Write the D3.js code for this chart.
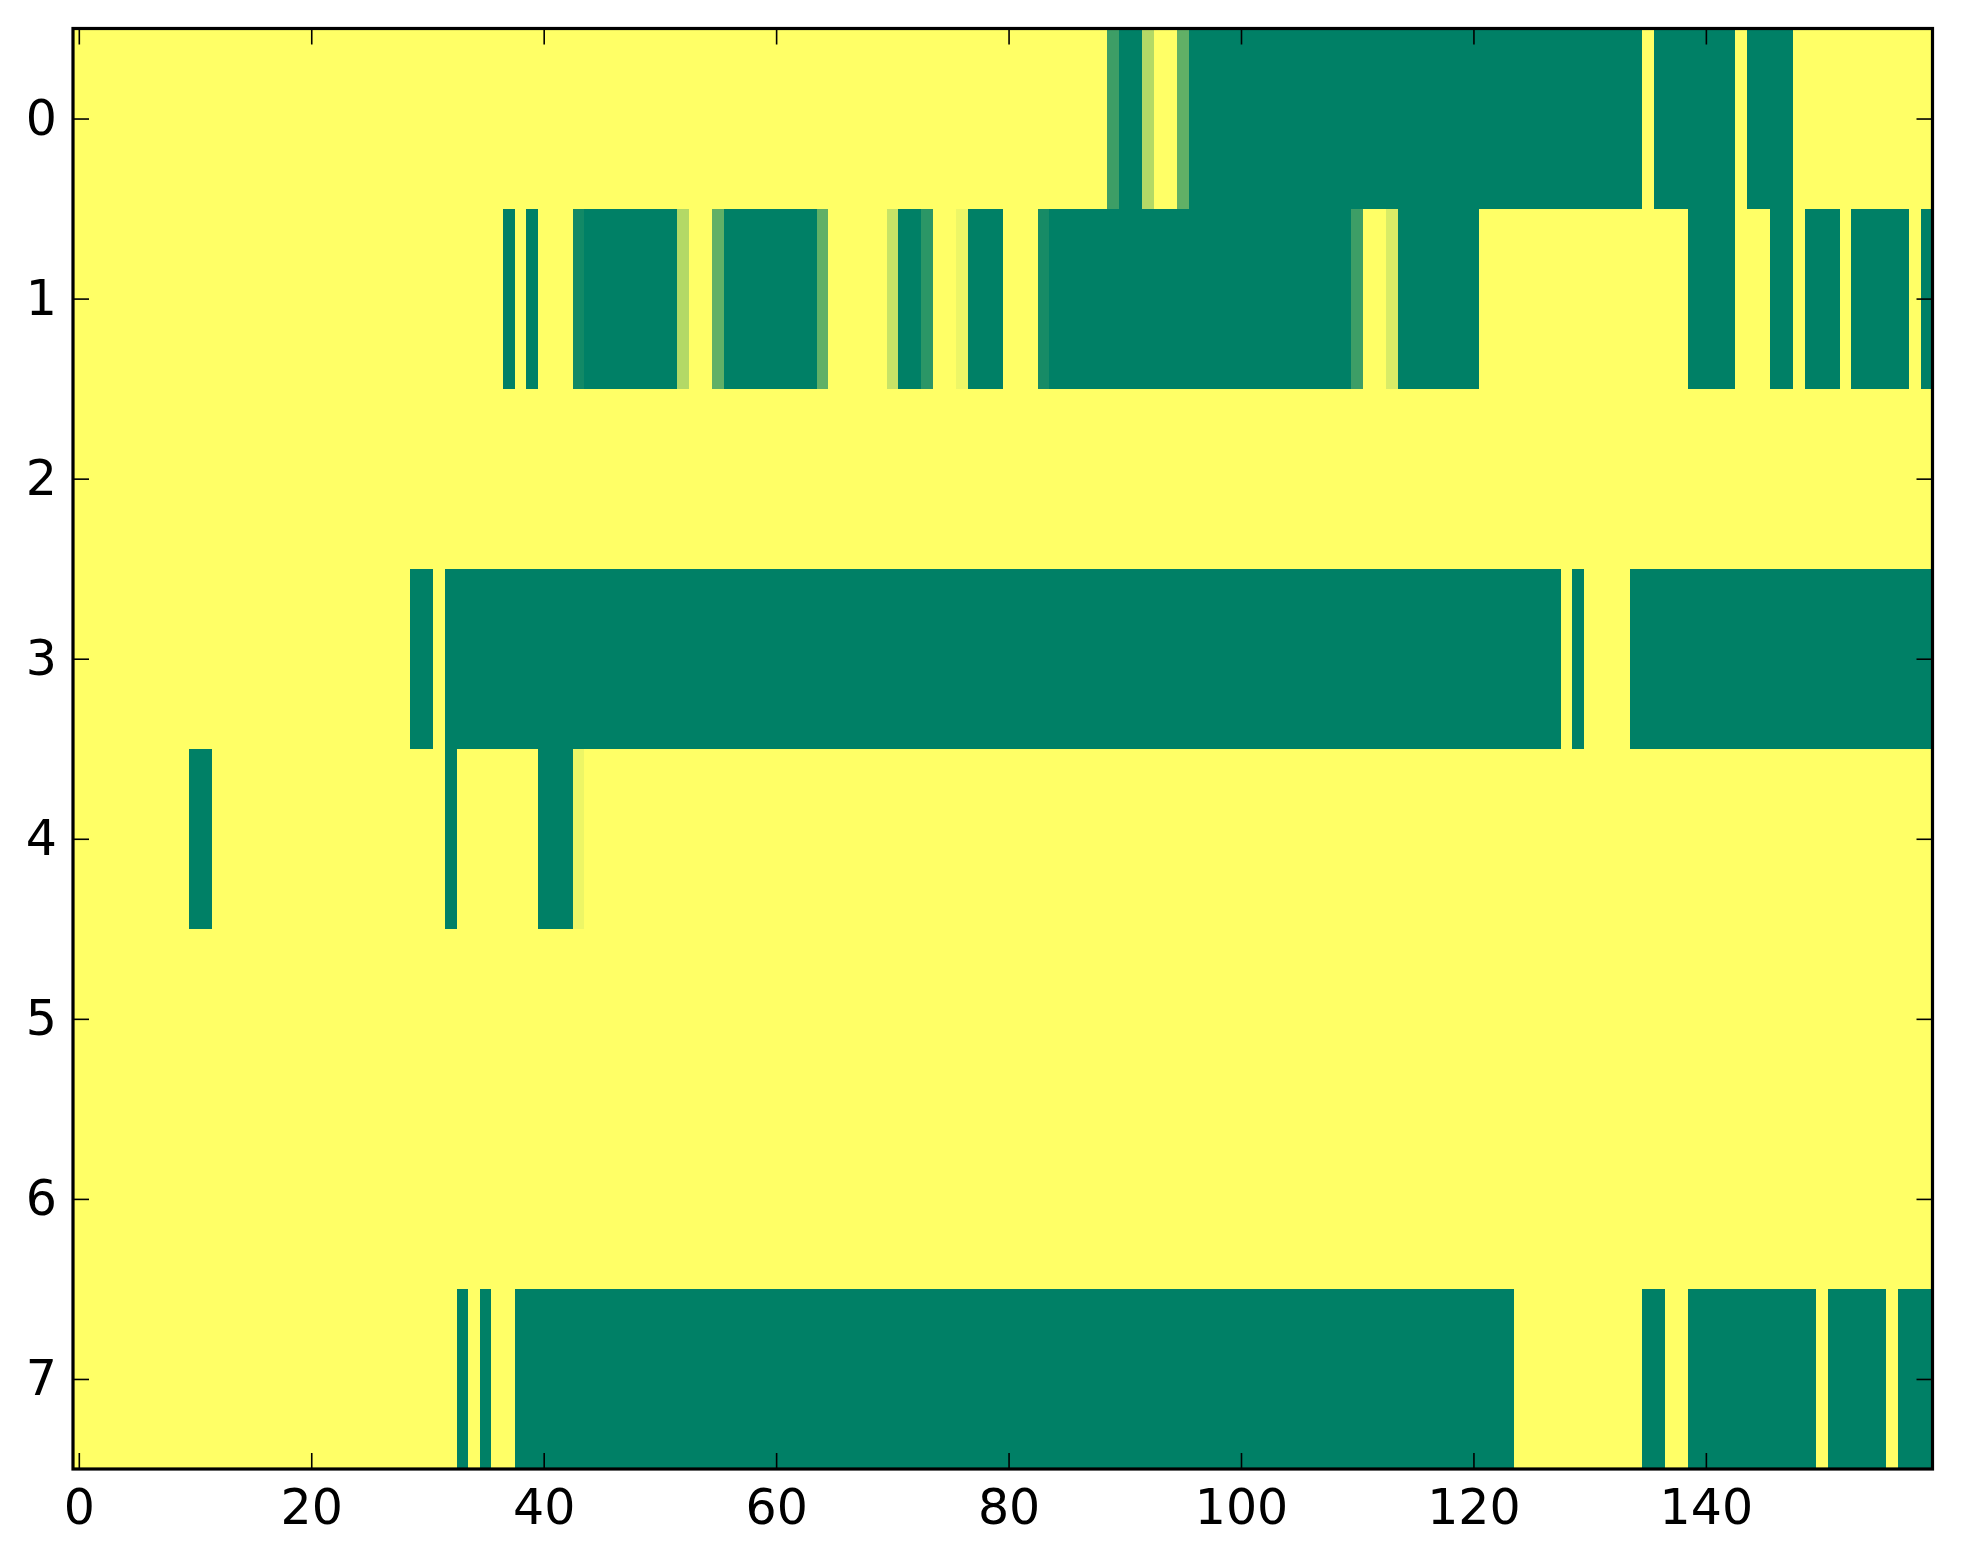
<!DOCTYPE html>
<html>
<head>
<meta charset="utf-8">
<script src="https://cdn.jsdelivr.net/npm/d3@7"></script>
<style>
  body { margin: 0; background: #fff; }
  text { font-family: "DejaVu Sans", sans-serif; }
</style>
</head>
<body>
<svg id="svg-heatmap"></svg>
<script>
// one array per image row, 160 columns each (0 = green, 1 = yellow)
const row0 = [
  1,1,1,1,1,1,1,1,1,1,1,1,1,1,1,1,1,1,1,1,
  1,1,1,1,1,1,1,1,1,1,1,1,1,1,1,1,1,1,1,1,
  1,1,1,1,1,1,1,1,1,1,1,1,1,1,1,1,1,1,1,1,
  1,1,1,1,1,1,1,1,1,1,1,1,1,1,1,1,1,1,1,1,
  1,1,1,1,1,1,1,1,1,.24,0,0,.7,1,1,.38,0,0,0,0,
  0,0,0,0,0,0,0,0,0,0,0,0,0,0,0,0,0,0,0,0,
  0,0,0,0,0,0,0,0,0,0,0,0,0,0,0,1,0,0,0,0,
  0,0,0,1,0,0,0,0,1,1,1,1,1,1,1,1,1,1,1,1
];
const row1 = [
  1,1,1,1,1,1,1,1,1,1,1,1,1,1,1,1,1,1,1,1,
  1,1,1,1,1,1,1,1,1,1,1,1,1,1,1,1,1,0,1,0,
  1,1,1,.07,0,0,0,0,0,0,0,0,.7,1,1,.38,0,0,0,0,
  0,0,0,0,.38,1,1,1,1,1,.78,0,0,.17,1,1,.93,0,0,0,
  1,1,1,.09,0,0,0,0,0,0,0,0,0,0,0,0,0,0,0,0,
  0,0,0,0,0,0,0,0,0,0,.24,1,1,.85,0,0,0,0,0,0,
  0,1,1,1,1,1,1,1,1,1,1,1,1,1,1,1,1,1,1,0,
  0,0,0,1,1,1,0,0,1,0,0,0,1,0,0,0,0,0,1,0
];
const row2 = [
  1,1,1,1,1,1,1,1,1,1,1,1,1,1,1,1,1,1,1,1,
  1,1,1,1,1,1,1,1,1,1,1,1,1,1,1,1,1,1,1,1,
  1,1,1,1,1,1,1,1,1,1,1,1,1,1,1,1,1,1,1,1,
  1,1,1,1,1,1,1,1,1,1,1,1,1,1,1,1,1,1,1,1,
  1,1,1,1,1,1,1,1,1,1,1,1,1,1,1,1,1,1,1,1,
  1,1,1,1,1,1,1,1,1,1,1,1,1,1,1,1,1,1,1,1,
  1,1,1,1,1,1,1,1,1,1,1,1,1,1,1,1,1,1,1,1,
  1,1,1,1,1,1,1,1,1,1,1,1,1,1,1,1,1,1,1,1
];
const row3 = [
  1,1,1,1,1,1,1,1,1,1,1,1,1,1,1,1,1,1,1,1,
  1,1,1,1,1,1,1,1,1,0,0,1,0,0,0,0,0,0,0,0,
  0,0,0,0,0,0,0,0,0,0,0,0,0,0,0,0,0,0,0,0,
  0,0,0,0,0,0,0,0,0,0,0,0,0,0,0,0,0,0,0,0,
  0,0,0,0,0,0,0,0,0,0,0,0,0,0,0,0,0,0,0,0,
  0,0,0,0,0,0,0,0,0,0,0,0,0,0,0,0,0,0,0,0,
  0,0,0,0,0,0,0,0,1,0,1,1,1,1,0,0,0,0,0,0,
  0,0,0,0,0,0,0,0,0,0,0,0,0,0,0,0,0,0,0,0
];
const row4 = [
  1,1,1,1,1,1,1,1,1,1,0,0,1,1,1,1,1,1,1,1,
  1,1,1,1,1,1,1,1,1,1,1,1,0,1,1,1,1,1,1,1,
  0,0,0,.93,1,1,1,1,1,1,1,1,1,1,1,1,1,1,1,1,
  1,1,1,1,1,1,1,1,1,1,1,1,1,1,1,1,1,1,1,1,
  1,1,1,1,1,1,1,1,1,1,1,1,1,1,1,1,1,1,1,1,
  1,1,1,1,1,1,1,1,1,1,1,1,1,1,1,1,1,1,1,1,
  1,1,1,1,1,1,1,1,1,1,1,1,1,1,1,1,1,1,1,1,
  1,1,1,1,1,1,1,1,1,1,1,1,1,1,1,1,1,1,1,1
];
const row5 = [
  1,1,1,1,1,1,1,1,1,1,1,1,1,1,1,1,1,1,1,1,
  1,1,1,1,1,1,1,1,1,1,1,1,1,1,1,1,1,1,1,1,
  1,1,1,1,1,1,1,1,1,1,1,1,1,1,1,1,1,1,1,1,
  1,1,1,1,1,1,1,1,1,1,1,1,1,1,1,1,1,1,1,1,
  1,1,1,1,1,1,1,1,1,1,1,1,1,1,1,1,1,1,1,1,
  1,1,1,1,1,1,1,1,1,1,1,1,1,1,1,1,1,1,1,1,
  1,1,1,1,1,1,1,1,1,1,1,1,1,1,1,1,1,1,1,1,
  1,1,1,1,1,1,1,1,1,1,1,1,1,1,1,1,1,1,1,1
];
const row6 = [
  1,1,1,1,1,1,1,1,1,1,1,1,1,1,1,1,1,1,1,1,
  1,1,1,1,1,1,1,1,1,1,1,1,1,1,1,1,1,1,1,1,
  1,1,1,1,1,1,1,1,1,1,1,1,1,1,1,1,1,1,1,1,
  1,1,1,1,1,1,1,1,1,1,1,1,1,1,1,1,1,1,1,1,
  1,1,1,1,1,1,1,1,1,1,1,1,1,1,1,1,1,1,1,1,
  1,1,1,1,1,1,1,1,1,1,1,1,1,1,1,1,1,1,1,1,
  1,1,1,1,1,1,1,1,1,1,1,1,1,1,1,1,1,1,1,1,
  1,1,1,1,1,1,1,1,1,1,1,1,1,1,1,1,1,1,1,1
];
const row7 = [
  1,1,1,1,1,1,1,1,1,1,1,1,1,1,1,1,1,1,1,1,
  1,1,1,1,1,1,1,1,1,1,1,1,1,0,1,0,1,1,0,0,
  0,0,0,0,0,0,0,0,0,0,0,0,0,0,0,0,0,0,0,0,
  0,0,0,0,0,0,0,0,0,0,0,0,0,0,0,0,0,0,0,0,
  0,0,0,0,0,0,0,0,0,0,0,0,0,0,0,0,0,0,0,0,
  0,0,0,0,0,0,0,0,0,0,0,0,0,0,0,0,0,0,0,0,
  0,0,0,0,1,1,1,1,1,1,1,1,1,1,1,0,0,1,1,0,
  0,0,0,0,0,0,0,0,0,0,1,0,0,0,0,0,1,0,0,0
];

const rows = [row0, row1, row2, row3, row4, row5, row6, row7];
const yTickValues = [0, 1, 2, 3, 4, 5, 6, 7];
const xTickValues = [0, 20, 40, 60, 80, 100, 120, 140];

drawHeatmap();

function drawHeatmap() {
    const width = 1963, height = 1564;
    const plot = { left: 73, right: 1932.5, top: 28.5, bottom: 1469 };
    const nCols = rows[0].length;

    const svg = d3.select('#svg-heatmap')
        .attr("width", width)
        .attr("height", height);

    // "summer" colormap: green -> yellow
    const color = d3.scaleLinear()
        .domain([0, 1])
        .range(["#008066", "#ffff66"]);

    const xBand = d3.scaleBand()
        .domain(d3.range(nCols))
        .range([plot.left, plot.right]);
    const yBand = d3.scaleBand()
        .domain(d3.range(rows.length))
        .range([plot.top, plot.bottom]);

    // linear scales for tick placement (pixel centres)
    const x = d3.scaleLinear().domain([-0.5, nCols - 0.5]).range([plot.left, plot.right]);
    const y = d3.scaleLinear().domain([-0.5, rows.length - 0.5]).range([plot.top, plot.bottom]);

    const cells = [];
    rows.forEach((r, ri) => r.forEach((v, ci) => cells.push({ row: ri, col: ci, v: v })));

    svg.append("g")
        .attr("shape-rendering", "crispEdges")
        .selectAll("rect")
        .data(cells)
        .enter().append("rect")
        .attr("x", d => xBand(d.col))
        .attr("y", d => yBand(d.row))
        .attr("width", xBand.bandwidth() + 0.6)
        .attr("height", yBand.bandwidth() + 0.6)
        .attr("fill", d => color(d.v));

    const tickLen = 16;

    const bottomAxis = svg.append("g")
        .attr("transform", `translate(0,${plot.bottom})`)
        .call(d3.axisBottom(x).tickValues(xTickValues).tickSize(-tickLen).tickPadding(20));
    const leftAxis = svg.append("g")
        .attr("transform", `translate(${plot.left},0)`)
        .call(d3.axisLeft(y).tickValues(yTickValues).tickSize(-tickLen).tickPadding(16));
    const topAxis = svg.append("g")
        .attr("transform", `translate(0,${plot.top})`)
        .call(d3.axisTop(x).tickValues(xTickValues).tickSize(-tickLen).tickFormat(""));
    const rightAxis = svg.append("g")
        .attr("transform", `translate(${plot.right},0)`)
        .call(d3.axisRight(y).tickValues(yTickValues).tickSize(-tickLen).tickFormat(""));

    [bottomAxis, leftAxis, topAxis, rightAxis].forEach(a => {
        a.select(".domain").remove();
        a.selectAll(".tick line").attr("stroke", "#000").attr("stroke-width", 1.6);
        a.selectAll("text")
            .attr("fill", "#000")
            .style("font-family", "'DejaVu Sans', sans-serif")
            .style("font-size", "49px");
    });

    // frame
    svg.append("rect")
        .attr("x", plot.left)
        .attr("y", plot.top)
        .attr("width", plot.right - plot.left)
        .attr("height", plot.bottom - plot.top)
        .attr("fill", "none")
        .attr("stroke", "#000")
        .attr("stroke-width", 3.2);
}
</script>
</body>
</html>
